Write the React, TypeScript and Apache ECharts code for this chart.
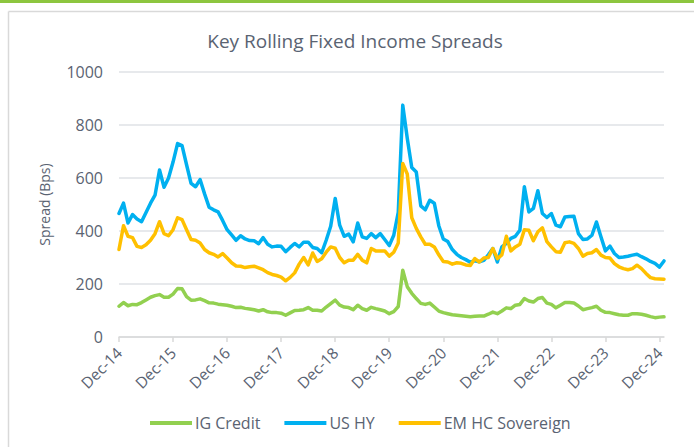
import React, { useEffect, useRef } from "react";
import * as echarts from "echarts";

const title = "Key Rolling Fixed Income Spreads";
const yAxisName = "Spread (Bps)";
const seriesNames = ["IG Credit", "US HY", "EM HC Sovereign"];
const seriesColors = ["#92D050", "#00B0F0", "#FFC000"];

// Monthly observations from Dec-14 to Jan-25
const monthNames = ["Jan", "Feb", "Mar", "Apr", "May", "Jun", "Jul", "Aug", "Sep", "Oct", "Nov", "Dec"];
const categories: string[] = [];
for (let i = 0; i < 122; i++) {
  const mi = (11 + i) % 12;
  const yr = 14 + Math.floor((11 + i) / 12);
  categories.push(`${monthNames[mi]}-${yr}`);
}

const igCredit = [
  116, 130, 118, 123, 122, 130, 140, 150, 156, 160, 150, 150,
  162, 183, 182, 152, 139, 140, 144, 137, 129, 128, 124, 122,
  120, 116, 111, 112, 108, 106, 103, 98, 103, 95, 92, 92,
  90, 82, 91, 100, 101, 103, 111, 101, 101, 98, 113, 126,
  139, 120, 113, 111, 103, 120, 107, 101, 112, 107, 103, 98,
  88, 96, 115, 252, 190, 165, 145, 127, 123, 128, 113, 98,
  92, 88, 84, 82, 80, 78, 76, 78, 79, 79, 86, 94,
  88, 98, 110, 107, 120, 123, 145, 136, 132, 145, 149, 128,
  123, 110, 120, 130, 130, 128, 117, 103, 107, 111, 116, 101,
  93, 92, 88, 84, 82, 82, 88, 88, 86, 82, 77, 73,
  75, 76,
];

const usHY = [
  466, 505, 430, 462, 445, 435, 470, 505, 535, 630, 565, 600,
  660, 730, 722, 650, 580, 567, 594, 540, 490, 480, 472, 440,
  405, 385, 365, 382, 370, 364, 363, 352, 375, 350, 340, 343,
  342, 322, 338, 353, 340, 358, 358, 338, 334, 318, 365, 418,
  523, 422, 380, 388, 359, 430, 378, 372, 390, 375, 390, 368,
  345, 384, 470, 875, 750, 640, 623, 495, 480, 516, 505, 420,
  370, 360, 330, 312, 300, 292, 282, 288, 284, 289, 310, 334,
  283, 340, 353, 372, 380, 403, 567, 472, 485, 552, 466, 451,
  466, 422, 416, 453, 455, 456, 390, 368, 370, 384, 434, 378,
  325, 343, 315, 300, 302, 305, 309, 312, 303, 295, 285, 278,
  264, 287,
];

const emHCSovereign = [
  330, 420, 380, 375, 342, 338, 348, 365, 390, 435, 390, 382,
  405, 450, 443, 405, 368, 365, 355, 330, 318, 312, 302, 315,
  298, 280, 268, 267, 262, 265, 267, 261, 254, 243, 236, 232,
  226, 212, 225, 242, 275, 300, 272, 317, 285, 295, 320, 340,
  335, 300, 280, 290, 290, 312, 290, 280, 334, 325, 325, 325,
  305, 320, 355, 655, 615, 450, 410, 378, 350, 350, 340, 310,
  285, 283, 275, 280, 278, 272, 270, 296, 283, 298, 300, 334,
  296, 310, 380, 325, 340, 350, 405, 403, 363, 397, 412, 360,
  340, 322, 320, 356, 359, 353, 334, 305, 315, 318, 330, 309,
  300, 298, 277, 265, 258, 254, 258, 271, 258, 240, 224, 220,
  219, 218,
];

const seriesData = [igCredit, usHY, emHCSovereign];

const FONT = "'Open Sans', sans-serif";
const TEXT_COLOR = "#5a6372";

export default function App() {
  const ref = useRef<HTMLDivElement>(null);

  useEffect(() => {
    if (!ref.current) return;
    const chart = echarts.init(ref.current, null, { renderer: "svg" });
    chart.setOption({
      animation: false,
      backgroundColor: "#ffffff",
      textStyle: { fontFamily: FONT },
      graphic: [
        { type: "rect", shape: { x: 0, y: 0, width: 694, height: 3 }, style: { fill: "#8DC63F" }, silent: true },
        { type: "line", shape: { x1: 8.5, y1: 11.5, x2: 694, y2: 11.5 }, style: { stroke: "#d9d9d9", lineWidth: 1.5 }, silent: true },
        { type: "line", shape: { x1: 8.5, y1: 11.5, x2: 8.5, y2: 447 }, style: { stroke: "#d9d9d9", lineWidth: 1.5 }, silent: true },
      ],
      title: {
        text: title,
        left: 350,
        textAlign: "center",
        top: 26,
        textStyle: { fontFamily: FONT, fontSize: 19, fontWeight: "normal", color: TEXT_COLOR },
      },
      grid: { left: 119, right: 30, top: 72, bottom: 110, containLabel: false },
      xAxis: {
        type: "category",
        data: categories,
        boundaryGap: false,
        axisLine: { show: true, lineStyle: { color: "#d9d9d9", width: 1.5 } },
        axisTick: { show: true, interval: 11, length: 5, lineStyle: { color: "#d9d9d9", width: 1.5 } },
        axisLabel: {
          interval: 11,
          rotate: 45,
          margin: 13,
          fontFamily: FONT,
          fontSize: 15.5,
          color: TEXT_COLOR,
        },
        splitLine: { show: false },
      },
      yAxis: {
        type: "value",
        min: 0,
        max: 1000,
        interval: 200,
        name: yAxisName,
        nameLocation: "middle",
        nameGap: 68,
        nameTextStyle: { fontFamily: FONT, fontSize: 14, color: TEXT_COLOR },
        axisLine: { show: false },
        axisTick: { show: false },
        axisLabel: { fontFamily: FONT, fontSize: 16, color: TEXT_COLOR, margin: 16, formatter: (v: number) => String(v) },
        splitLine: { show: true, lineStyle: { color: "#dfe2e6", width: 1.5 } },
      },
      legend: {
        bottom: 11,
        left: 145,
        icon: "rect",
        itemWidth: 42,
        itemHeight: 4,
        itemGap: 24,
        textStyle: { fontFamily: FONT, fontSize: 16, color: TEXT_COLOR, padding: [0, 0, 0, -2] },
        data: seriesNames,
      },
      series: seriesNames.map((name, i) => ({
        name,
        type: "line",
        data: seriesData[i],
        showSymbol: false,
        symbol: "none",
        smooth: false,
        lineStyle: { color: seriesColors[i], width: 3.5, join: "round", cap: "round" },
        itemStyle: { color: seriesColors[i] },
        z: i === 0 ? 3 : i === 1 ? 2 : 4,
      })),
    });
    return () => chart.dispose();
  }, []);

  return (
    <div
      ref={ref}
      style={{ position: "fixed", left: 0, top: 0, width: 694, height: 447 }}
    />
  );
}
